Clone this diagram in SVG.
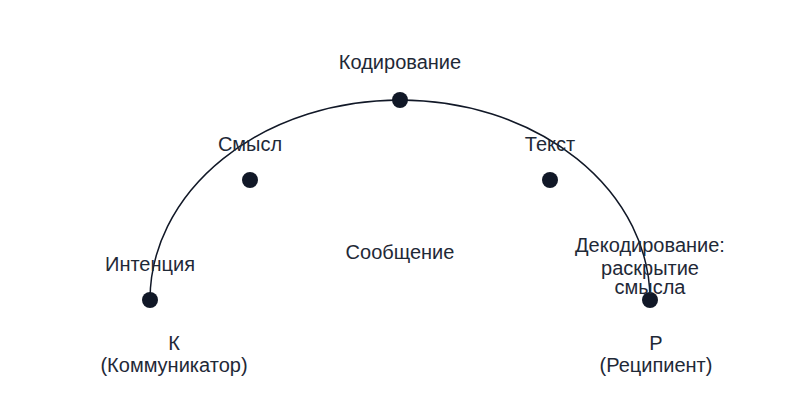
<svg xmlns="http://www.w3.org/2000/svg" width="800" height="400" viewBox="0 0 800 400">
<style>
.lbl{font-family:"Liberation Sans",Arial,sans-serif;font-size:20px;fill:#1f2937;text-anchor:middle}
.dot{fill:#111827}
.arc{fill:none;stroke:#111827;stroke-width:1.5}
</style>
<rect width="800" height="400" fill="#ffffff"/>
<g id="connectors">
<path class="arc" d="M150,300 A250,200 0 0 1 650,300"/>
</g>
<g id="node-k">
<circle class="dot" cx="150" cy="300" r="8"/>
<text class="lbl" x="150" y="271">Интенция</text>
<text class="lbl" x="174" y="350">К</text>
<text class="lbl" x="174" y="372">(Коммуникатор)</text>
</g>
<g id="node-smysl">
<circle class="dot" cx="250" cy="180" r="8"/>
<text class="lbl" x="250" y="151">Смысл</text>
</g>
<g id="node-kod">
<circle class="dot" cx="400" cy="100" r="8"/>
<text class="lbl" x="400" y="69">Кодирование</text>
</g>
<g id="node-tekst">
<circle class="dot" cx="550" cy="180" r="8"/>
<text class="lbl" x="550" y="151">Текст</text>
</g>
<g id="node-r">
<circle class="dot" cx="650" cy="300" r="8"/>
<text class="lbl" x="650" y="252">Декодирование:</text>
<text class="lbl" x="650" y="275">раскрытие</text>
<text class="lbl" x="650" y="294">смысла</text>
<text class="lbl" x="656" y="350">Р</text>
<text class="lbl" x="656" y="372">(Реципиент)</text>
</g>
<g id="center">
<text class="lbl" x="400" y="259">Сообщение</text>
</g>
</svg>
